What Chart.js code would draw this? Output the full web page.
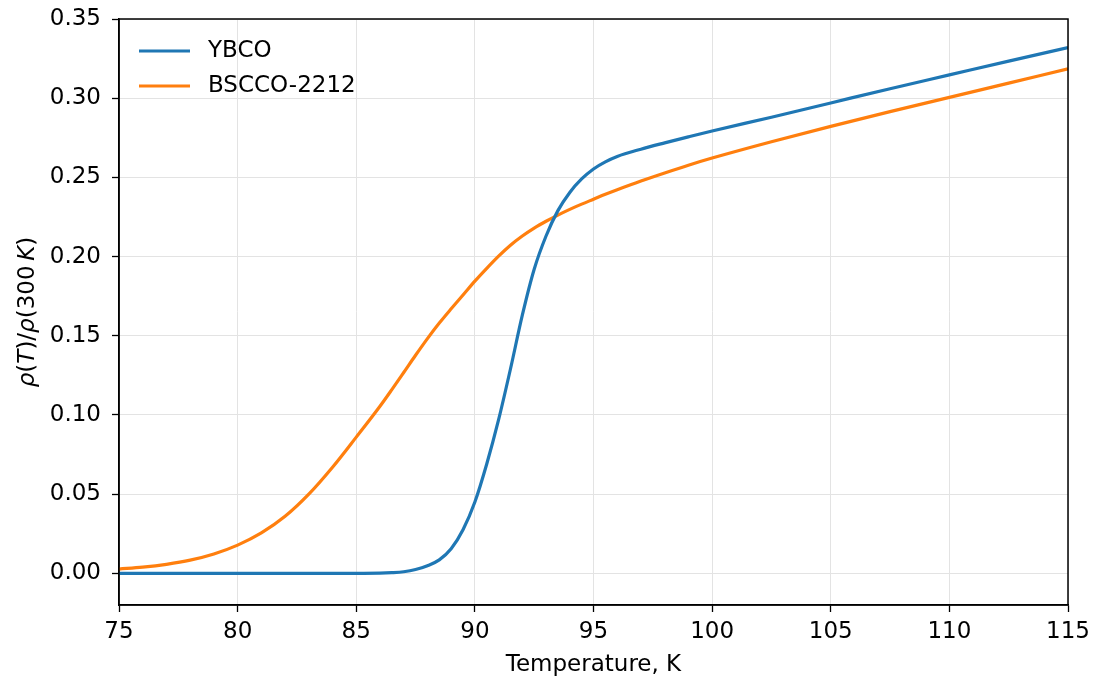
<!DOCTYPE html>
<html lang="en">
<head>
  <meta charset="UTF-8" />
  <title>Resistive transition: YBCO vs BSCCO-2212</title>
  <!-- Chart.js -->
  <script src="https://cdn.jsdelivr.net/npm/chart.js@4.4.0/dist/chart.umd.min.js"></script>
  <style>
    html, body { margin: 0; background: #fff; }
    #wrap { width: 1100px; height: 680px; }
  </style>
</head>
<body>
  <div id="wrap"><canvas id="rhoChart" width="1100" height="680"></canvas></div>

  <script>
    // --- Data: normalised resistivity rho(T)/rho(300 K) -------------
    const temps = [75, 76, 77, 78, 79, 80, 81, 82, 83, 84, 85, 86,
                   86.5, 87, 87.5, 88, 88.5, 89, 89.5, 90, 90.5, 91, 91.5, 92,
                   92.5, 93, 93.5, 94, 94.5, 95, 95.5, 96,
                   97, 98, 99, 100, 102.5, 105, 107.5, 110, 112.5, 115];
    const ybco = [0, 0, 0, 0, 0, 0, 0, 0, 0, 0, 0, 0.0001,
                  0.0004, 0.001, 0.0024, 0.0048, 0.0085, 0.0155, 0.0275, 0.045, 0.069, 0.097, 0.129, 0.163,
                  0.192, 0.213, 0.229, 0.2405, 0.249, 0.2553, 0.2598, 0.2632,
                  0.2678, 0.2718, 0.2756, 0.2793, 0.288, 0.297, 0.306, 0.3147, 0.3234, 0.332];
    const bscco = [0.0027, 0.0039, 0.0057, 0.0083, 0.0122, 0.0178, 0.0255, 0.036, 0.050, 0.067, 0.086, 0.1055,
                   0.116, 0.1268, 0.1377, 0.1482, 0.158, 0.167, 0.1757, 0.1845, 0.1926, 0.2003, 0.2072, 0.2130,
                   0.2180, 0.2223, 0.2262, 0.2298, 0.2331, 0.2362, 0.2393, 0.2422,
                   0.2477, 0.2528, 0.2577, 0.2622, 0.2725, 0.2822, 0.2915, 0.3005, 0.3095, 0.3185];

    const seriesNames = ['YBCO', 'BSCCO-2212'];
    const seriesColors = ['#1f77b4', '#ff7f0e'];
    const xTicks = [75, 80, 85, 90, 95, 100, 105, 110, 115];
    const yTicks = [0, 0.05, 0.10, 0.15, 0.20, 0.25, 0.30, 0.35];

    const FONT = 'DejaVu Sans';
    const GRID = '#e3e3e3';

    // --- Frame, in-plot legend and mixed-italic y label -------------
    const decorations = {
      id: 'decorations',
      afterDraw(chart) {
        const { ctx, chartArea: a } = chart;
        ctx.save();

        // axes box
        ctx.strokeStyle = '#000';
        ctx.lineWidth = 1.5;
        ctx.strokeRect(a.left, a.top, a.right - a.left, a.bottom - a.top);

        // legend, upper left inside the plot
        ctx.font = `23px "${FONT}"`;
        ctx.textBaseline = 'middle';
        ctx.textAlign = 'left';
        chart.data.datasets.forEach((ds, i) => {
          const y = a.top + 32 + i * 35;
          ctx.strokeStyle = ds.borderColor;
          ctx.lineWidth = 3;
          ctx.beginPath();
          ctx.moveTo(a.left + 20, y);
          ctx.lineTo(a.left + 71, y);
          ctx.stroke();
          ctx.fillStyle = '#000';
          ctx.fillText(ds.label, a.left + 89, y);
        });

        // y axis title: ρ(T)/ρ(300 K)
        const parts = [
          ['ρ', true], ['(', false], ['T', true], [')/', false],
          ['ρ', true], ['(300', false], ['\u2009', false], ['K', true], [')', false]
        ];
        const fontFor = it => `${it ? 'italic ' : ''}23px "${FONT}"`;
        let total = 0;
        parts.forEach(([s, it]) => { ctx.font = fontFor(it); total += ctx.measureText(s).width; });
        ctx.translate(34, (a.top + a.bottom) / 2);
        ctx.rotate(-Math.PI / 2);
        ctx.textBaseline = 'alphabetic';
        let x = -total / 2;
        parts.forEach(([s, it]) => {
          ctx.font = fontFor(it);
          ctx.fillText(s, x, 0);
          x += ctx.measureText(s).width;
        });

        ctx.restore();
      }
    };

    // --- Chart ------------------------------------------------------
    const toPoints = ys => temps.map((t, i) => ({ x: t, y: ys[i] }));

    new Chart(document.getElementById('rhoChart'), {
      type: 'line',
      data: {
        datasets: [ybco, bscco].map((ys, i) => ({
          label: seriesNames[i],
          data: toPoints(ys),
          borderColor: seriesColors[i],
          backgroundColor: seriesColors[i],
          borderWidth: 3.2,
          pointRadius: 0,
          fill: false,
          cubicInterpolationMode: 'monotone'
        }))
      },
      options: {
        responsive: false,
        animation: false,
        layout: { padding: { left: 0, right: 32, top: 19, bottom: 0 } },
        plugins: { legend: { display: false }, tooltip: { enabled: false } },
        scales: {
          x: {
            type: 'linear',
            min: 75,
            max: 115,
            afterBuildTicks: s => { s.ticks = xTicks.map(v => ({ value: v })); },
            afterFit: s => { s.height = 75; s.paddingLeft = 0; s.paddingRight = 0; },
            grid: { color: GRID, lineWidth: 1, tickColor: '#000', tickLength: 7, tickWidth: 1.3 },
            border: { color: '#000', width: 1.5 },
            ticks: { color: '#000', font: { family: FONT, size: 23 }, padding: 6, maxRotation: 0 },
            title: {
              display: true, text: 'Temperature, K', color: '#000',
              font: { family: FONT, size: 23 }, padding: { top: 0, bottom: 1 }
            }
          },
          y: {
            type: 'linear',
            min: -0.02,
            max: 0.35,
            afterBuildTicks: s => { s.ticks = yTicks.map(v => ({ value: v })); },
            afterFit: s => { s.width = 119; s.paddingTop = 0; s.paddingBottom = 0; },
            grid: { color: GRID, lineWidth: 1, tickColor: '#000', tickLength: 7, tickWidth: 1.3 },
            border: { color: '#000', width: 1.5 },
            ticks: {
              color: '#000', font: { family: FONT, size: 23 }, padding: 11,
              callback: v => v.toFixed(2)
            }
          }
        }
      },
      plugins: [decorations]
    });
  </script>
</body>
</html>
